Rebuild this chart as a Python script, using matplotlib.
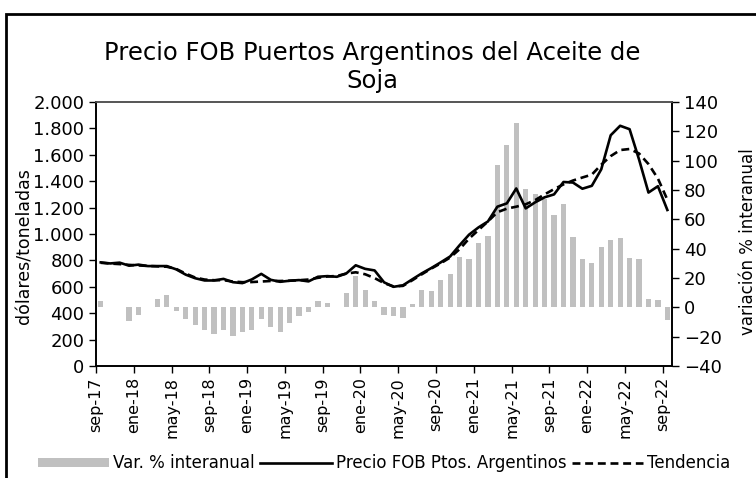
import numpy as np
import matplotlib as mpl
import matplotlib.pyplot as plt
from matplotlib.patches import Rectangle

mpl.rcParams.update({
    "font.family": ["DejaVu Sans"],
    "font.size": 12,
})

# Monthly series sep-17 .. sep-22 (61 months)
TICK_LABELS = ["sep-17", "ene-18", "may-18", "sep-18", "ene-19", "may-19",
               "sep-19", "ene-20", "may-20", "sep-20", "ene-21", "may-21",
               "sep-21", "ene-22", "may-22", "sep-22"]

# Precio FOB Ptos. Argentinos (USD/t)
precio = [785, 777, 783, 760, 768, 757, 757, 757, 732, 692,
          665, 648, 648, 660, 635, 628, 656, 698, 653, 638,
          646, 651, 641, 676, 681, 676, 701, 763, 736, 724,
          634, 600, 611, 657, 702, 742, 785, 830, 915, 995,
          1050, 1095, 1207, 1232, 1345, 1194, 1240, 1278, 1300, 1394,
          1390, 1343, 1365, 1490, 1748, 1820, 1794, 1565, 1314, 1362,
          1182]

# Tendencia (USD/t)
tendencia = [782, 776, 772, 766, 762, 758, 755, 752, 735, 700,
             670, 655, 650, 650, 640, 635, 636, 640, 644, 644,
             646, 650, 655, 668, 678, 682, 700, 710, 695, 666,
             628, 603, 607, 650, 695, 738, 778, 822, 885, 965,
             1030, 1095, 1165, 1192, 1207, 1225, 1257, 1300, 1340, 1376,
             1405, 1428, 1450, 1525, 1590, 1636, 1644, 1610, 1530, 1420,
             1260]

# Var. % interanual
var_ia = [4.5, 0.4, 0.4, -9, -5, 0.4, 5.5, 8.5, -2.5, -8,
          -12, -15.5, -18, -15.5, -19.5, -17, -15.5, -8, -13.5, -17,
          -11, -6, -3.5, 4.4, 3.2, 0.5, 9.7, 21.7, 11.8, 4.4,
          -5, -6.2, -7.2, 2.5, 11.5, 10.8, 18.9, 22.7, 34.6, 32.8,
          43.8, 48.4, 96.8, 110.4, 125.9, 81, 77, 74, 63, 70.4,
          47.7, 33, 30.3, 41.1, 45.7, 47.6, 33.8, 33, 5.5, 4.7,
          -8.6]

x = np.arange(len(precio)) + 0.5

fig = plt.figure(figsize=(7.56, 4.78), dpi=100)
ax = fig.add_axes([0.127, 0.2343, 0.762, 0.5523])
ax2 = ax.twinx()

# bars on the right scale, lines on top
ax2.bar(x, var_ia, width=0.55, color="#c0c0c0", label="Var. % interanual")
ax.set_zorder(ax2.get_zorder() + 1)
ax.patch.set_visible(False)

ax.plot(x, precio, color="black", lw=1.9, label="Precio FOB Ptos. Argentinos")
ax.plot(x, tendencia, color="black", lw=1.9, ls=(0, (3, 1.8)), label="Tendencia")

ax.set_xlim(0, 61)
ax.set_ylim(0, 2000)
ax2.set_ylim(-40, 140)

ax.set_yticks(range(0, 2001, 200))
ax.set_yticklabels([f"{v:,}".replace(",", ".") for v in range(0, 2001, 200)])
ax2.set_yticks(range(-40, 141, 20))

ax.set_xticks(range(0, 61, 4))
ax.set_xticklabels(TICK_LABELS, rotation=90)

for a in (ax, ax2):
    a.tick_params(direction="out", length=5, width=1, labelsize=13)
    for s in a.spines.values():
        s.set_linewidth(1.2)
    a.spines["top"].set_color("#555555")
ax.tick_params(axis="x", pad=3, labelsize=11.5)

ax.set_ylabel("dólares/toneladas", fontsize=12.5)
ax.yaxis.set_label_coords(-0.109, 0.455)
ax2.set_ylabel("variación % interanual", fontsize=12)
ax2.yaxis.set_label_coords(1.116, 0.47)

fig.text(0.492, 0.86, "Precio FOB Puertos Argentinos del Aceite de\nSoja",
         ha="center", va="center", fontsize=17.5, linespacing=1.2)

h1, l1 = ax2.get_legend_handles_labels()
h2, l2 = ax.get_legend_handles_labels()
fig.legend(h1 + h2, l1 + l2, ncol=3, frameon=False, fontsize=12,
           loc="center left", bbox_to_anchor=(0.041, 0.031),
           handlelength=4.3, handleheight=0.5, handletextpad=0.25,
           columnspacing=0.3, borderaxespad=0)

# outer frame of the chart area
fig.patches.append(Rectangle((6 / 756, -0.1), 1.2, 1.1 - 14 / 478,
                             transform=fig.transFigure, fill=False,
                             edgecolor="black", lw=2))

fig.savefig("out.png", dpi=100)
